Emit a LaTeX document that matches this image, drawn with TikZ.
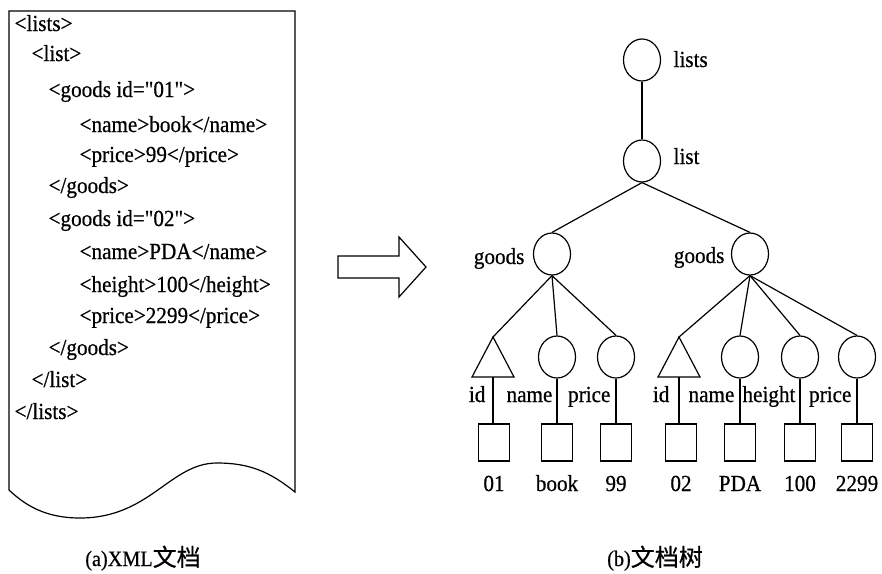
\documentclass[tikz,border=0pt]{standalone}
\usepackage{fontspec}
\setmainfont{Liberation Serif}[Ligatures=TeXOff,FakeStretch=0.92,RawFeature={embolden=0.6}]
\newfontfamily\cjkfont{Noto Sans CJK SC}[RawFeature={embolden=0.6}]
\newcommand\textcjk[1]{{\fontsize{24}{28}\selectfont\cjkfont #1}}
\usetikzlibrary{shapes.geometric}
\begin{document}
\begin{tikzpicture}[x=1pt,y=-1pt,line width=1.2pt,
  every node/.style={inner sep=0pt,font=\fontsize{23}{27}\selectfont},
  codeline/.style={anchor=base west},
  elem/.style={draw,ellipse,minimum width=37pt,minimum height=42pt},
  leaf/.style={draw,rectangle,minimum width=31pt,minimum height=37pt},
  tag/.style={anchor=base east},
  val/.style={anchor=base},
  caption/.style={anchor=base,font=\fontsize{22}{26}\selectfont}]
\useasboundingbox (0,0) rectangle (882,573);

% ---------- (a) the XML document, a page with a wavy lower edge ----------
\draw (9,11) -- (295,11) -- (295,492)
  .. controls (270,472) and (250,463) .. (217,463)
  .. controls (170,463) and (150,518) .. (80,518)
  .. controls (45,518) and (25,505) .. (9,490) -- cycle;

\node[codeline] (l1)  at (14,31)  {<lists>};
\node[codeline] (l2)  at (31,61)  {<list>};
\node[codeline] (l3)  at (48,97)  {<goods id="01">};
\node[codeline] (l4)  at (79,132) {<name>book</name>};
\node[codeline] (l5)  at (79,162) {<price>99</price>};
\node[codeline] (l6)  at (48,193) {</goods>};
\node[codeline] (l7)  at (48,226) {<goods id="02">};
\node[codeline] (l8)  at (79,259) {<name>PDA</name>};
\node[codeline] (l9)  at (79,292) {<height>100</height>};
\node[codeline] (l10) at (79,323) {<price>2299</price>};
\node[codeline] (l11) at (48,355) {</goods>};
\node[codeline] (l12) at (31,387) {</list>};
\node[codeline] (l13) at (14,419) {</lists>};

\node[caption] (capa) at (143,566) {(a)XML\textcjk{文档}};

% ---------- block arrow ----------
\draw (338,256) -- (399,256) -- (399,237) -- (426,267) -- (399,297)
  -- (399,278) -- (338,278) -- cycle;

% ---------- (b) the document tree ----------
\node[elem] (lists) at (642,60)  {};
\node[elem] (list)  at (642,161) {};
\node[elem] (g1)    at (552,254) {};
\node[elem] (g2)    at (750,254) {};

\node[anchor=base west] (tlists) at (673,67)  {lists};
\node[anchor=base west] (tlist)  at (673,164) {list};
\node[tag] (tg1) at (525,264) {goods};
\node[tag] (tg2) at (725,263) {goods};

% attribute triangles
\coordinate (a1) at (493,337);
\coordinate (a1b) at (493,377);
\draw (a1) -- (514,377) -- (472,377) -- cycle;
\coordinate (a2) at (679,337);
\coordinate (a2b) at (679,377);
\draw (a2) -- (700,377) -- (658,377) -- cycle;

% child elements
\node[elem] (n1) at (557,357) {};
\node[elem] (p1) at (616,357) {};
\node[elem] (n2) at (740,357) {};
\node[elem] (h2) at (800,357) {};
\node[elem] (p2) at (857,357) {};

% text leaves
\node[leaf] (v1) at (494,442.5) {};
\node[leaf] (v2) at (557,442.5) {};
\node[leaf] (v3) at (616,442.5) {};
\node[leaf] (v4) at (681,442.5) {};
\node[leaf] (v5) at (740,442.5) {};
\node[leaf] (v6) at (800,442.5) {};
\node[leaf] (v7) at (857,442.5) {};

% edges
\draw (lists.south) -- (list.north);
\draw (list.south) -- (g1.north);
\draw (list.south) -- (g2.north);
\draw (g1.south) -- (a1);
\draw (g1.south) -- (n1.north);
\draw (g1.south) -- (p1.north);
\draw (g2.south) -- (a2);
\draw (g2.south) -- (n2.north);
\draw (g2.south) -- (h2.north);
\draw (g2.south) -- (p2.north);
\draw (a1b) -- (a1b |- v1.north);
\draw (n1.south) -- (n1.south |- v2.north);
\draw (p1.south) -- (p1.south |- v3.north);
\draw (a2b) -- (a2b |- v4.north);
\draw (n2.south) -- (n2.south |- v5.north);
\draw (h2.south) -- (h2.south |- v6.north);
\draw (p2.south) -- (p2.south |- v7.north);

% edge labels
\node[tag] (e1) at (486,402) {id};
\node[tag] (e2) at (553,402) {name};
\node[tag] (e3) at (611,402) {price};
\node[tag] (e4) at (670,402) {id};
\node[tag] (e5) at (735,402) {name};
\node[tag] (e6) at (796,402) {height};
\node[tag] (e7) at (852,402) {price};

% leaf values
\node[val] (w1) at (v1 |- 0,491) {01};
\node[val] (w2) at (v2 |- 0,491) {book};
\node[val] (w3) at (v3 |- 0,491) {99};
\node[val] (w4) at (v4 |- 0,491) {02};
\node[val] (w5) at (v5 |- 0,491) {PDA};
\node[val] (w6) at (v6 |- 0,491) {100};
\node[val] (w7) at (v7 |- 0,491) {2299};

\node[caption] (capb) at (655,566) {(b)\textcjk{文档树}};
\end{tikzpicture}
\end{document}
